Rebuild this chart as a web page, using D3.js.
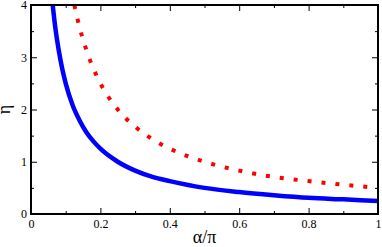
<!DOCTYPE html>
<html><head><meta charset="utf-8">
<script src="https://cdn.jsdelivr.net/npm/d3@7"></script>
<style>body{margin:0;background:#fff}svg{display:block}text{font-family:"Liberation Serif","DejaVu Serif",serif}</style>
</head><body>
<svg id="c" width="382" height="247"></svg>
<script>
const blueX = [0.0625,0.07,0.08,0.09,0.1,0.12,0.14,0.16,0.18,0.2,0.25,0.3,0.35,0.4,0.5,0.6,0.7,0.8,0.9,1.0];
const blueY = [4.0,3.57,3.13,2.78,2.5,2.08,1.79,1.56,1.39,1.25,1.0,0.83,0.71,0.63,0.5,0.42,0.36,0.31,0.28,0.25];
const redX = [0.125,0.14,0.16,0.18,0.2,0.25,0.3,0.35,0.4,0.5,0.6,0.7,0.8,0.9,1.0];
const redY = [4.0,3.57,3.13,2.78,2.5,2.0,1.67,1.43,1.25,1.0,0.83,0.71,0.63,0.56,0.5];
const xTicks = [0,0.2,0.4,0.6,0.8,1];
const xTickLabels = ["0","0.2","0.4","0.6","0.8","1"];
const yTicks = [0,1,2,3,4];
const yTickLabels = ["0","1","2","3","4"];
const xMinor = [0.1,0.3,0.5,0.7,0.9];
const yMinor = [0.5,1.5,2.5,3.5];

const L=31,R=378,T=5,B=214;
const svg=d3.select("#c");
const x=d3.scaleLinear().domain([0,1]).range([L,R]);
const y=d3.scaleLinear().domain([0,4]).range([B,T]);
const font='"Liberation Serif","DejaVu Serif",serif';

svg.append("clipPath").attr("id","clip").append("rect").attr("x",L).attr("y",T).attr("width",R-L).attr("height",B-T);

const line=d3.line().x(d=>x(d[0])).y(d=>y(d[1])).curve(d3.curveMonotoneX);
const g=svg.append("g").attr("clip-path","url(#clip)");
g.append("path").datum(redX.map((v,i)=>[v,redY[i]])).attr("d",line)
 .attr("fill","none").attr("stroke","#ff0000").attr("stroke-width",4).attr("stroke-dasharray","4,10");
g.append("path").datum(blueX.map((v,i)=>[v,blueY[i]])).attr("d",line)
 .attr("fill","none").attr("stroke","#0000ff").attr("stroke-width",4.5);

function ax(gen,tr,vals,size,labels){
  const a=svg.append("g").attr("transform",tr).call(gen.tickValues(vals).tickSize(size).tickSizeOuter(0).tickFormat(labels?((d,i)=>labels[i]):""));
  a.select(".domain").remove();
  a.attr("font-family",null).attr("font-size",null);
  a.selectAll("line").attr("stroke","#000").attr("stroke-width",1);
  a.selectAll("text").style("font-family",font).style("font-size","12px").attr("fill","#000");
  return a;
}
const bx=ax(d3.axisBottom(x),`translate(0,${B})`,xTicks,-6,xTickLabels);
bx.selectAll("text").attr("y",5).attr("dy","0.71em");
ax(d3.axisBottom(x),`translate(0,${B})`,xMinor,-3,null);
ax(d3.axisTop(x),`translate(0,${T})`,xTicks,-6,null);
ax(d3.axisTop(x),`translate(0,${T})`,xMinor,-3,null);
const ly=ax(d3.axisLeft(y),`translate(${L},0)`,yTicks,-6,yTickLabels);
ly.selectAll("text").attr("x",-4);
ax(d3.axisLeft(y),`translate(${L},0)`,yMinor,-3,null);
ax(d3.axisRight(y),`translate(${R},0)`,yTicks,-6,null);
ax(d3.axisRight(y),`translate(${R},0)`,yMinor,-3,null);

svg.append("rect").attr("x",L).attr("y",T).attr("width",R-L).attr("height",B-T)
 .attr("fill","none").attr("stroke","#000").attr("stroke-width",2);

svg.append("text").attr("x",(L+R)/2).attr("y",243).attr("text-anchor","middle")
 .style("font-family",font).style("font-size","18px").text("α/π");
svg.append("text").attr("transform",`translate(10,${(T+B)/2}) rotate(-90)`).attr("text-anchor","middle")
 .style("font-family",font).style("font-size","18px").text("η");
</script>
</body></html>
